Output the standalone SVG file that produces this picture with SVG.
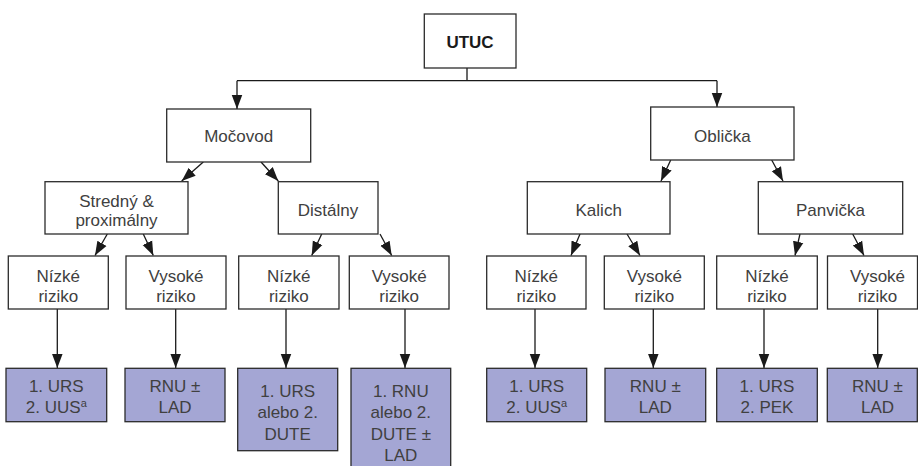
<svg xmlns="http://www.w3.org/2000/svg" width="918" height="466" viewBox="0 0 918 466">
<defs>
<marker id="ah" markerUnits="userSpaceOnUse" markerWidth="14" markerHeight="16" viewBox="0 0 16 12" refX="16" refY="6" orient="auto">
<path d="M0,0 L16,6 L0,12 Z" fill="#1a1a1a"/>
</marker>
<style>
.box{fill:#fff;stroke:#2b2b2b;stroke-width:1.3}
.res{fill:#a4a6d4;stroke:#2b2b2b;stroke-width:1.3}
text{font-family:"Liberation Sans",Arial,sans-serif;font-size:17px;fill:#404040;text-anchor:middle}
.b{font-weight:bold;fill:#1a1a1a}
.c{fill:none;stroke:#1a1a1a;stroke-width:1.3}
.a{marker-end:url(#ah)}
</style>
</defs>
<rect width="918" height="466" fill="#fff"/>
<g id="connectors">
<path class="c" d="M467,68 V80.7 M237,80.7 H717"/>
<path class="c a" d="M237,80.7 V109"/>
<path class="c a" d="M717,80.7 V107"/>
<path class="c a" d="M203.3,162 L181.7,181"/>
<path class="c a" d="M261,162 L278.3,181"/>
<path class="c a" d="M670.7,160 L661,181"/>
<path class="c a" d="M771.7,160 L783,181"/>
<path class="c a" d="M107.3,234 L95,255.5"/>
<path class="c a" d="M143.3,234 L153.3,255.5"/>
<path class="c a" d="M321.7,234 L311.7,255.5"/>
<path class="c a" d="M380,234 L391.7,255.5"/>
<path class="c a" d="M580,234 L571,255.5"/>
<path class="c a" d="M627,234 L640,255.5"/>
<path class="c a" d="M800,234 L795,255.5"/>
<path class="c a" d="M852.7,234 L864,255.5"/>
<path class="c a" d="M57.3,309 V368"/>
<path class="c a" d="M175.7,309 V368"/>
<path class="c a" d="M286,309 V368"/>
<path class="c a" d="M405,309 V368"/>
<path class="c a" d="M535,309 V368"/>
<path class="c a" d="M653.3,309 V368"/>
<path class="c a" d="M764,309 V368"/>
<path class="c a" d="M877.7,309 V368"/>
</g>
<g id="utuc"><rect class="box" x="424.3" y="14" width="91.7" height="54"/><text class="b" x="470" y="48">UTUC</text></g>
<g id="mocovod"><rect class="box" x="166.7" y="109" width="144" height="53"/><text x="238.7" y="142">Močovod</text></g>
<g id="oblicka"><rect class="box" x="650.7" y="107" width="143.3" height="53"/><text x="722.3" y="141.5">Oblička</text></g>
<g id="stredny"><rect class="box" x="45" y="181.7" width="143" height="52.3"/><text x="116.5" y="206.7">Stredný &amp;</text><text x="116.5" y="226">proximálny</text></g>
<g id="distalny"><rect class="box" x="278.3" y="181.7" width="99.7" height="52.3"/><text x="328" y="215.5">Distálny</text></g>
<g id="kalich"><rect class="box" x="527.3" y="181.7" width="142.7" height="52.3"/><text x="598.7" y="215.5">Kalich</text></g>
<g id="panvicka"><rect class="box" x="758.3" y="181.7" width="144.4" height="52.3"/><text x="830.5" y="215.5">Panvička</text></g>
<g id="nizke1"><rect class="box" x="8.3" y="256" width="100" height="53"/><text x="58.3" y="281.7">Nízké</text><text x="58.3" y="301.7">riziko</text></g>
<g id="vysoke1"><rect class="box" x="126" y="256" width="100" height="53"/><text x="176" y="281.7">Vysoké</text><text x="176" y="301.7">riziko</text></g>
<g id="nizke2"><rect class="box" x="238.7" y="256" width="100.3" height="53"/><text x="288.8" y="281.7">Nízké</text><text x="288.8" y="301.7">riziko</text></g>
<g id="vysoke2"><rect class="box" x="349.3" y="256" width="99.7" height="53"/><text x="399.2" y="281.7">Vysoké</text><text x="399.2" y="301.7">riziko</text></g>
<g id="nizke3"><rect class="box" x="486.7" y="256" width="99.3" height="53"/><text x="536.3" y="281.7">Nízké</text><text x="536.3" y="301.7">riziko</text></g>
<g id="vysoke3"><rect class="box" x="604.3" y="256" width="100" height="53"/><text x="654.3" y="281.7">Vysoké</text><text x="654.3" y="301.7">riziko</text></g>
<g id="nizke4"><rect class="box" x="716.7" y="256" width="100.6" height="53"/><text x="767" y="281.7">Nízké</text><text x="767" y="301.7">riziko</text></g>
<g id="vysoke4"><rect class="box" x="827.5" y="256" width="90" height="53"/><text x="877.5" y="281.7">Vysoké</text><text x="877.5" y="301.7">riziko</text></g>
<g id="res1"><rect class="res" x="6" y="368.3" width="100.7" height="53.4"/><text x="56.3" y="391.7">1. URS</text><text x="56.3" y="413.3">2. UUS<tspan font-size="11" dy="-6">a</tspan></text></g>
<g id="res2"><rect class="res" x="125" y="368.3" width="100" height="53.4"/><text x="175" y="391.7">RNU ±</text><text x="175" y="413.3">LAD</text></g>
<g id="res3"><rect class="res" x="237.7" y="368.3" width="100" height="82.4"/><text x="287.7" y="396.7">1. URS</text><text x="287.7" y="418.3">alebo 2.</text><text x="287.7" y="439.5">DUTE</text></g>
<g id="res4"><rect class="res" x="351" y="368.3" width="99.7" height="100"/><text x="400.8" y="396.7">1. RNU</text><text x="400.8" y="418.3">alebo 2.</text><text x="400.8" y="440">DUTE ±</text><text x="400.8" y="460.5">LAD</text></g>
<g id="res5"><rect class="res" x="486.7" y="368.3" width="100" height="53.4"/><text x="536.7" y="391.7">1. URS</text><text x="536.7" y="413.3">2. UUS<tspan font-size="11" dy="-6">a</tspan></text></g>
<g id="res6"><rect class="res" x="605" y="368.3" width="100.7" height="53.4"/><text x="655.3" y="391.7">RNU ±</text><text x="655.3" y="413.3">LAD</text></g>
<g id="res7"><rect class="res" x="716.7" y="368.3" width="100.6" height="53.4"/><text x="767" y="391.7">1. URS</text><text x="767" y="413.3">2. PEK</text></g>
<g id="res8"><rect class="res" x="827.3" y="368.3" width="90" height="53.4"/><text x="877.5" y="391.7">RNU ±</text><text x="877.5" y="413.3">LAD</text></g>
</svg>
